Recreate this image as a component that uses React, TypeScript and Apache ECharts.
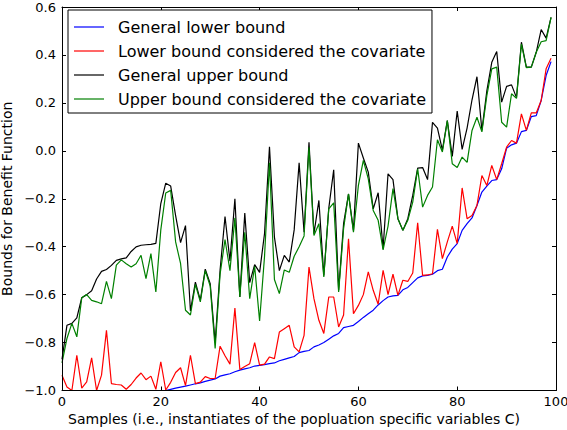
import React, { useEffect, useRef } from "react";
import * as echarts from "echarts";

const FONT = "DejaVu Sans";

const seriesNames = [
  "General lower bound",
  "Lower bound considered the covariate",
  "General upper bound",
  "Upper bound considered the covariate",
];
const seriesColors = ["#0000ff", "#ff0000", "#000000", "#008000"];

const xTicks = [0, 20, 40, 60, 80, 100];
const yTicks = [-1.0, -0.8, -0.6, -0.4, -0.2, 0.0, 0.2, 0.4, 0.6];

const samples = [
  0, 1, 2, 3, 4, 5, 6, 7, 8, 9, 10, 11, 12, 13, 14, 15, 16, 17, 18, 19,
  20, 21, 22, 23, 24, 25, 26, 27, 28, 29, 30, 31, 32, 33, 34, 35, 36, 37, 38, 39,
  40, 41, 42, 43, 44, 45, 46, 47, 48, 49, 50, 51, 52, 53, 54, 55, 56, 57, 58, 59,
  60, 61, 62, 63, 64, 65, 66, 67, 68, 69, 70, 71, 72, 73, 74, 75, 76, 77, 78, 79,
  80, 81, 82, 83, 84, 85, 86, 87, 88, 89, 90, 91, 92, 93, 94, 95, 96, 97, 98, 99,
];

const generalLower = [
  -1.0, -1.0, -1.0, -1.0, -1.0, -1.0, -1.0, -1.0, -1.0, -1.0,
  -1.0, -1.0, -1.0, -1.0, -1.0, -1.0, -1.0, -1.0, -1.0, -1.0,
  -1.0, -1.0, -0.995, -0.99, -0.986, -0.982, -0.977, -0.972, -0.968, -0.962,
  -0.957, -0.952, -0.94, -0.935, -0.93, -0.922, -0.915, -0.91, -0.905, -0.898,
  -0.895, -0.892, -0.888, -0.885, -0.876, -0.87, -0.864, -0.858, -0.842, -0.837,
  -0.833, -0.818, -0.81, -0.8, -0.786, -0.772, -0.762, -0.738, -0.733, -0.728,
  -0.712, -0.695, -0.68, -0.665, -0.643, -0.625, -0.61, -0.605, -0.603, -0.58,
  -0.57, -0.55, -0.53, -0.522, -0.52, -0.515, -0.5, -0.494, -0.443, -0.41,
  -0.387, -0.332, -0.304, -0.28, -0.228, -0.172, -0.147, -0.124, -0.12, -0.075,
  0.011, 0.025, 0.032, 0.08, 0.085, 0.143, 0.147, 0.21, 0.314, 0.372,
];

const covariateLower = [
  -0.936, -0.985, -1.0, -0.853, -0.99, -0.964, -0.864, -1.0, -0.936, -0.749,
  -0.971, -0.975, -0.977, -0.995, -0.975, -0.948, -0.927, -0.955, -0.94, -0.995,
  -0.88, -0.998, -0.966, -0.925, -0.905, -0.98, -0.853, -0.971, -0.965, -0.942,
  -0.95, -0.95, -0.815, -0.855, -0.89, -0.656, -0.912, -0.9, -0.888, -0.8,
  -0.894, -0.89, -0.86, -0.867, -0.756, -0.742, -0.728, -0.818, -0.839, -0.77,
  -0.485, -0.617, -0.707, -0.762, -0.61, -0.61, -0.735, -0.685, -0.367, -0.68,
  -0.645, -0.6, -0.505, -0.582, -0.64, -0.499, -0.6, -0.515, -0.603, -0.54,
  -0.545, -0.51, -0.3, -0.52, -0.518, -0.513, -0.328, -0.45, -0.38, -0.314,
  -0.387, -0.155, -0.283, -0.27, -0.228, -0.103, -0.145, -0.061, -0.12, -0.054,
  0.015, 0.043, 0.032, 0.154, 0.085, 0.158, 0.158, 0.21, 0.342, 0.386,
];

const generalUpper = [
  -0.87, -0.728, -0.72, -0.697, -0.613, -0.6, -0.584, -0.535, -0.503, -0.495,
  -0.478, -0.457, -0.451, -0.447, -0.42, -0.401, -0.394, -0.392, -0.39, -0.386,
  -0.22, -0.135, -0.147, -0.27, -0.383, -0.312, -0.668, -0.548, -0.623, -0.494,
  -0.554, -0.8, -0.498, -0.274, -0.46, -0.2, -0.61, -0.26, -0.55, -0.475,
  -0.507, -0.345, 0.017, -0.36, -0.5, -0.436, -0.464, -0.33, -0.05, -0.34,
  0.036, -0.346, -0.207, -0.52, -0.24, -0.079, -0.582, -0.304, -0.18, -0.332,
  0.032, -0.03, -0.089, -0.242, -0.175, -0.408, -0.096, -0.12, -0.283, -0.332,
  -0.283, -0.186, -0.072, -0.07, -0.12, 0.119, 0.095, 0.003, 0.126, -0.023,
  0.166, 0.006, 0.095, 0.213, 0.309, 0.085, 0.25, 0.369, 0.414, 0.203,
  0.269, 0.275, 0.222, 0.453, 0.349, 0.349, 0.411, 0.506, 0.47, 0.557,
];

const covariateUpper = [
  -0.885, -0.783, -0.72, -0.776, -0.613, -0.6, -0.624, -0.63, -0.638, -0.545,
  -0.617, -0.477, -0.455, -0.471, -0.485, -0.471, -0.436, -0.533, -0.429, -0.589,
  -0.33, -0.176, -0.165, -0.38, -0.47, -0.665, -0.685, -0.557, -0.63, -0.5,
  -0.564, -0.825, -0.515, -0.37, -0.5, -0.28, -0.61, -0.34, -0.617, -0.482,
  -0.71, -0.44, -0.05, -0.537, -0.596, -0.497, -0.507, -0.44, -0.4, -0.355,
  0.015, -0.353, -0.304, -0.526, -0.242, -0.217, -0.589, -0.325, -0.18, -0.339,
  -0.144, -0.04, -0.117, -0.249, -0.29, -0.413, -0.314, -0.158, -0.283, -0.332,
  -0.29, -0.214, -0.075, -0.235, -0.186, -0.151, 0.046, -0.005, 0.126, -0.054,
  -0.07, -0.026, -0.048, 0.085, 0.14, 0.079, 0.23, 0.342, 0.349, 0.119,
  0.099, 0.238, 0.219, 0.445, 0.347, 0.349, 0.411, 0.455, 0.46, 0.557,
];

const allSeries = [generalLower, covariateLower, generalUpper, covariateUpper];

const fmtY = (v: number) => {
  const r = Math.round(v * 10) / 10;
  if (Math.abs(r) < 1e-9) return "0.0";
  return (r < 0 ? "\u2212" : "") + Math.abs(r).toFixed(1);
};

export default function App() {
  const ref = useRef<HTMLDivElement>(null);

  useEffect(() => {
    if (!ref.current) return;
    const chart = echarts.init(ref.current, undefined, { renderer: "svg" });

    const axisLine = { show: true, onZero: false, lineStyle: { color: "#000", width: 1 } };
    const axisTick = { show: true, inside: true, length: 4, lineStyle: { color: "#000", width: 1 } };
    const xMin = xTicks[0];
    const xMax = xTicks[xTicks.length - 1];
    const yMin = yTicks[0];
    const yMax = yTicks[yTicks.length - 1];

    chart.setOption({
      animation: false,
      backgroundColor: "#ffffff",
      textStyle: { fontFamily: FONT },
      grid: {
        left: 62,
        top: 7,
        width: 494,
        height: 383.5,
        containLabel: false,
        outerBoundsMode: "none",
      },
      legend: {
        orient: "vertical",
        left: 68,
        top: 10,
        padding: [9, 6, 6, 6],
        itemGap: 8,
        itemWidth: 30,
        itemHeight: 1.2,
        icon: "rect",
        backgroundColor: "#ffffff",
        borderColor: "#000000",
        borderWidth: 1,
        borderRadius: 0,
        selectedMode: false,
        textStyle: { fontSize: 16, color: "#000", fontFamily: FONT, padding: [0, 0, 0, 9] },
        data: seriesNames,
      },
      xAxis: [
        {
          type: "value",
          min: xMin,
          max: xMax,
          interval: 20,
          position: "bottom",
          z: 3,
          axisLine,
          axisTick,
          splitLine: { show: false },
          axisLabel: { margin: 4, fontSize: 13, color: "#000", fontFamily: FONT },
          name: "Samples (i.e., instantiates of the popluation specific variables C)",
          nameLocation: "middle",
          nameGap: 15,
          nameTextStyle: { fontSize: 14, color: "#000", fontFamily: FONT, padding: [0, 30, 0, 0] },
        },
        {
          type: "value",
          min: xMin,
          max: xMax,
          interval: 20,
          position: "top",
          z: 3,
          axisLine,
          axisTick,
          splitLine: { show: false },
          axisLabel: { show: false },
        },
      ],
      yAxis: [
        {
          type: "value",
          min: yMin,
          max: yMax,
          interval: 0.2,
          position: "left",
          z: 3,
          axisLine,
          axisTick,
          splitLine: { show: false },
          axisLabel: { margin: 6, fontSize: 13, color: "#000", fontFamily: FONT, formatter: fmtY },
          name: "Bounds for Benefit Function",
          nameLocation: "middle",
          nameGap: 39,
          nameTextStyle: { fontSize: 14, color: "#000", fontFamily: FONT },
        },
        {
          type: "value",
          min: yMin,
          max: yMax,
          interval: 0.2,
          position: "right",
          z: 3,
          axisLine,
          axisTick,
          splitLine: { show: false },
          axisLabel: { show: false },
        },
      ],
      series: allSeries.map((vals, k) => ({
        name: seriesNames[k],
        type: "line",
        xAxisIndex: 0,
        yAxisIndex: 0,
        data: samples.map((x, i) => [x, vals[i]]),
        symbol: "none",
        showSymbol: false,
        clip: true,
        color: seriesColors[k],
        lineStyle: { color: seriesColors[k], width: 1.2 },
        emphasis: { disabled: true },
        z: 2,
      })),
    });

    return () => {
      chart.dispose();
    };
  }, []);

  return (
    <div
      ref={ref}
      style={{ position: "fixed", left: 0, top: 0, width: 567, height: 430, background: "#fff" }}
    />
  );
}
